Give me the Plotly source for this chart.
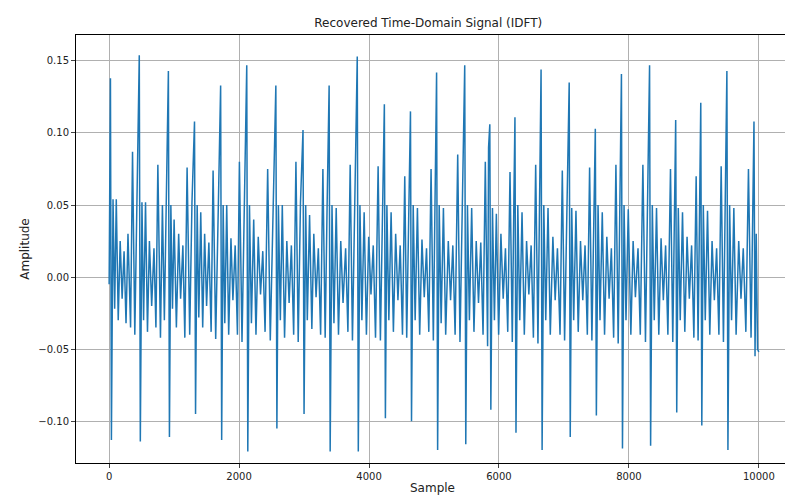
import plotly.graph_objects as go

# (sample, amplitude), cycle by cycle
sample = [
 0, 20, 35, 60, 85, 110, 140, 170, 200, 230, 260, 290, 330, 360, 395, 430,
 464, 480, 505, 530, 560, 590, 620, 655, 690, 720, 750, 790, 820, 850, 880,
 912, 928, 950, 975, 1000, 1035, 1070, 1100, 1135, 1165, 1200, 1240, 1275,
 1314, 1330, 1355, 1380, 1410, 1440, 1470, 1500, 1535, 1570, 1600, 1640, 1680,
 1716, 1732, 1755, 1780, 1810, 1840, 1875, 1905, 1940, 1975, 2005, 2045, 2080,
 2118, 2134, 2160, 2190, 2225, 2260, 2295, 2330, 2365, 2400, 2440, 2480, 2525,
 2566, 2582, 2605, 2635, 2665, 2700, 2735, 2770, 2805, 2840, 2875, 2910, 2945,
 2984, 3000, 3025, 3050, 3085, 3120, 3150, 3185, 3220, 3255, 3290, 3325, 3355,
 3386, 3402, 3430, 3460, 3495, 3530, 3565, 3600, 3640, 3675, 3710, 3745, 3780,
 3819, 3835, 3860, 3890, 3925, 3960, 3995, 4030, 4065, 4100, 4140, 4175, 4205,
 4236, 4252, 4275, 4305, 4340, 4375, 4410, 4445, 4480, 4515, 4550, 4580, 4610,
 4638, 4654, 4680, 4710, 4745, 4780, 4815, 4850, 4885, 4920, 4955, 4990, 5015,
 5040, 5056, 5080, 5110, 5145, 5180, 5220, 5255, 5290, 5325, 5365, 5400, 5440,
 5473, 5489, 5515, 5545, 5580, 5615, 5650, 5685, 5720, 5755, 5790, 5825, 5840,
 5859, 5875, 5900, 5930, 5960, 5995, 6030, 6065, 6100, 6135, 6170, 6205, 6230,
 6246, 6262, 6290, 6320, 6355, 6390, 6425, 6460, 6495, 6530, 6565, 6600, 6625,
 6648, 6664, 6690, 6720, 6755, 6790, 6830, 6865, 6900, 6940, 6975, 7010, 7050,
 7081, 7097, 7120, 7150, 7185, 7220, 7255, 7290, 7325, 7360, 7395, 7430, 7460,
 7483, 7499, 7525, 7555, 7590, 7625, 7660, 7695, 7730, 7765, 7800, 7835, 7860,
 7885, 7901, 7925, 7955, 7990, 8030, 8065, 8100, 8140, 8175, 8215, 8255, 8290,
 8318, 8334, 8360, 8390, 8425, 8460, 8495, 8530, 8565, 8600, 8640, 8675, 8700,
 8720, 8736, 8760, 8790, 8825, 8860, 8895, 8930, 8965, 9000, 9035, 9065, 9090,
 9106, 9122, 9145, 9175, 9210, 9245, 9280, 9315, 9350, 9385, 9420, 9455, 9485,
 9508, 9524, 9550, 9580, 9615, 9650, 9690, 9725, 9760, 9800, 9840, 9880, 9905,
 9925, 9941, 9960, 9980, 9999,
]
amplitude = [
 -0.005, 0.138, -0.113, 0.054, -0.022, 0.054, -0.030, 0.025, -0.015, 0.018, -0.032, 0.030, -0.035, 0.087, -0.040, 0.052,
 0.154, -0.114, 0.052, -0.030, 0.052, -0.038, 0.025, -0.020, 0.020, -0.035, 0.078, -0.042, 0.050, -0.030, 0.050,
 0.143, -0.111, 0.050, -0.022, 0.040, -0.035, 0.030, -0.015, 0.022, -0.042, 0.076, -0.040, 0.052,
 0.108, -0.095, 0.050, -0.028, 0.045, -0.035, 0.030, -0.020, 0.024, -0.038, 0.074, -0.043, 0.048,
 0.133, -0.113, 0.050, -0.032, 0.050, -0.040, 0.027, -0.016, 0.022, -0.040, 0.080, -0.045, 0.055,
 0.147, -0.121, 0.050, -0.032, 0.040, -0.040, 0.028, -0.012, 0.018, -0.038, 0.075, -0.044, 0.050,
 0.133, -0.105, 0.050, -0.030, 0.050, -0.042, 0.025, -0.018, 0.022, -0.040, 0.080, -0.045, 0.052,
 0.102, -0.095, 0.050, -0.030, 0.043, -0.036, 0.030, -0.014, 0.020, -0.040, 0.075, -0.042, 0.050,
 0.133, -0.121, 0.050, -0.032, 0.048, -0.040, 0.025, -0.018, 0.020, -0.038, 0.078, -0.044, 0.052,
 0.153, -0.121, 0.050, -0.030, 0.045, -0.040, 0.028, -0.012, 0.022, -0.042, 0.077, -0.044, 0.052,
 0.120, -0.098, 0.050, -0.030, 0.045, -0.038, 0.030, -0.016, 0.022, -0.040, 0.070, -0.042, 0.050,
 0.115, -0.100, 0.050, -0.030, 0.048, -0.040, 0.026, -0.014, 0.020, -0.038, 0.075, -0.044, 0.055,
 0.142, -0.120, 0.050, -0.032, 0.048, -0.040, 0.025, -0.016, 0.022, -0.040, 0.085, -0.045, 0.052,
 0.147, -0.116, 0.050, -0.030, 0.048, -0.038, 0.025, -0.018, 0.024, -0.040, 0.080, -0.048, 0.090,
 0.106, -0.092, 0.048, -0.030, 0.044, -0.040, 0.030, -0.015, 0.020, -0.038, 0.073, -0.045, 0.055,
 0.111, -0.108, 0.050, -0.030, 0.045, -0.040, 0.025, -0.012, 0.022, -0.042, 0.078, -0.046, 0.052,
 0.144, -0.120, 0.050, -0.030, 0.048, -0.040, 0.028, -0.016, 0.020, -0.040, 0.074, -0.044, 0.050,
 0.135, -0.111, 0.048, -0.030, 0.046, -0.038, 0.025, -0.016, 0.022, -0.040, 0.076, -0.044, 0.050,
 0.103, -0.096, 0.050, -0.030, 0.045, -0.040, 0.028, -0.015, 0.020, -0.042, 0.078, -0.046, 0.052,
 0.141, -0.119, 0.050, -0.030, 0.047, -0.040, 0.025, -0.014, 0.020, -0.040, 0.078, -0.045, 0.052,
 0.147, -0.117, 0.050, -0.030, 0.048, -0.040, 0.027, -0.016, 0.022, -0.040, 0.075, -0.045, 0.052,
 0.109, -0.094, 0.048, -0.030, 0.045, -0.038, 0.028, -0.015, 0.022, -0.042, 0.070, -0.044, 0.052,
 0.121, -0.103, 0.050, -0.030, 0.046, -0.040, 0.025, -0.016, 0.020, -0.040, 0.077, -0.045, 0.050,
 0.143, -0.120, 0.050, -0.030, 0.048, -0.040, 0.025, -0.015, 0.020, -0.038, 0.075, -0.042, 0.050,
 0.108, -0.055, 0.030, -0.050, -0.052,
]
x_ticks = [0, 2000, 4000, 6000, 8000, 10000]
x_tick_labels = ["0", "2000", "4000", "6000", "8000", "10000"]

fig = go.Figure(go.Scatter(x=sample, y=amplitude, mode="lines",
                           line=dict(color="#1f77b4", width=1.5)))
fig.update_layout(
    width=793, height=497, margin=dict(l=68, r=12, t=27, b=42, autoexpand=False),
    plot_bgcolor="white", paper_bgcolor="white",
    font=dict(family="DejaVu Sans", size=10, color="#222"),
    title=dict(text="Recovered Time-Domain Signal (IDFT)", x=0.53, xanchor="center",
               y=0.97, yanchor="middle", font=dict(size=12)),
    showlegend=False,
)
ax = dict(showline=True, linecolor="black", mirror=True, showgrid=True, gridcolor="#b0b0b0",
          ticks="outside", ticklen=4, zeroline=False)
fig.update_xaxes(title=dict(text="Sample", standoff=2), range=[-510, 10464],
                 tickvals=x_ticks, ticktext=x_tick_labels, **ax)
fig.update_yaxes(title=dict(text="Amplitude", standoff=6), range=[-0.129, 0.168],
                 tickvals=[-0.1,-0.05,0,0.05,0.1,0.15], tickformat=".2f", **ax)
fig.write_html("out.html")
